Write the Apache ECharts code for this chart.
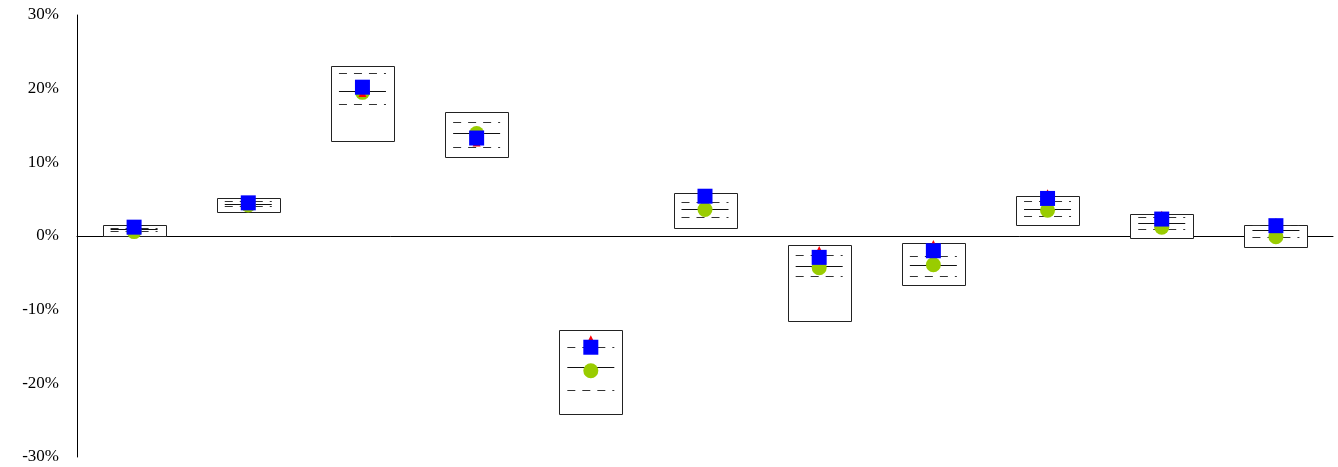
<!DOCTYPE html>
<html>
<head>
<meta charset="utf-8">
<script src="https://cdn.jsdelivr.net/npm/echarts@6/dist/echarts.min.js"></script>
<style>
  html, body { margin: 0; padding: 0; background: #fff; }
  #chart { width: 1338px; height: 467px; }
</style>
</head>
<body>
<div id="chart"></div>
<script>
// values in percent
var categories = ['1', '2', '3', '4', '5', '6', '7', '8', '9', '10', '11'];
var boxHigh   = [1.5, 5.2, 23.1, 16.8, -12.8, 5.8, -1.2, -0.9, 5.4, 3.0, 1.5];
var boxLow    = [0.0, 3.3, 12.9, 10.7, -24.2, 1.1, -11.5, -6.6, 1.5, -0.2, -1.45];
var upperLine = [1.15, 4.7, 22.1, 15.5, -15.1, 4.6, -2.6, -2.7, 4.7, 2.6, 1.45];
var medianLine = [0.95, 4.4, 19.7, 14.0, -17.8, 3.7, -4.1, -3.9, 3.6, 1.7, 0.77];
var lowerLine = [0.72, 4.1, 17.9, 12.1, -20.9, 2.6, -5.4, -5.4, 2.7, 0.95, -0.2];
var circleVals = [0.6, 4.2, 19.5, 13.9, -18.3, 3.6, -4.3, -3.9, 3.5, 1.2, -0.1];
var squareVals = [1.2, 4.5, 20.2, 13.3, -15.1, 5.4, -2.9, -2.0, 5.1, 2.3, 1.4];
var triangleVals = [1.6, 4.9, 19.4, 12.7, -14.0, 5.8, -1.9, -1.1, 5.8, 2.9, 1.9];
var yTicks = [-30, -20, -10, 0, 10, 20, 30];

var chart = echarts.init(document.getElementById('chart'));

var boxData = categories.map(function (c, i) {
  return [i, boxHigh[i], boxLow[i], upperLine[i], medianLine[i], lowerLine[i]];
});

function renderBox(params, api) {
  var i = api.value(0);
  var top = api.coord([i, api.value(1)]);
  var bottom = api.coord([i, api.value(2)]);
  var yUp = api.coord([i, api.value(3)])[1];
  var yMed = api.coord([i, api.value(4)])[1];
  var yLow = api.coord([i, api.value(5)])[1];
  var cx = top[0];
  var halfBox = 31.5;
  var halfLine = 23.5;
  var dashStyle = { stroke: '#333', lineWidth: 1, lineDash: [8, 7] };
  return {
    type: 'group',
    children: [
      {
        type: 'rect',
        shape: { x: Math.round(cx - halfBox) + 0.5, y: Math.round(top[1]) + 0.5,
                 width: halfBox * 2, height: Math.round(bottom[1] - top[1]) },
        style: { fill: '#fff', stroke: '#222', lineWidth: 1 }
      },
      {
        type: 'line',
        shape: { x1: cx - halfLine, y1: Math.round(yUp) + 0.5, x2: cx + halfLine, y2: Math.round(yUp) + 0.5 },
        style: dashStyle
      },
      {
        type: 'line',
        shape: { x1: cx - halfLine, y1: Math.round(yMed) + 0.5, x2: cx + halfLine, y2: Math.round(yMed) + 0.5 },
        style: { stroke: '#111', lineWidth: 1 }
      },
      {
        type: 'line',
        shape: { x1: cx - halfLine, y1: Math.round(yLow) + 0.5, x2: cx + halfLine, y2: Math.round(yLow) + 0.5 },
        style: dashStyle
      }
    ]
  };
}

chart.setOption({
  animation: false,
  backgroundColor: '#fff',
  grid: { left: 77, right: 5, top: 15, bottom: 10 },
  xAxis: {
    type: 'category',
    data: categories,
    axisLine: { onZero: true, lineStyle: { color: '#000', width: 1 } },
    axisTick: { show: false },
    axisLabel: { show: false },
    splitLine: { show: false }
  },
  yAxis: {
    type: 'value',
    min: yTicks[0],
    max: yTicks[yTicks.length - 1],
    interval: 10,
    axisLine: { show: true, lineStyle: { color: '#000', width: 1 } },
    axisTick: { show: false },
    splitLine: { show: false },
    axisLabel: {
      color: '#000',
      fontFamily: 'Liberation Serif',
      fontSize: 17,
      margin: 18,
      formatter: function (v) { return v + '%'; }
    }
  },
  series: [
    {
      type: 'custom',
      renderItem: renderBox,
      data: boxData,
      encode: { x: 0, y: [1, 2] },
      z: 2
    },
    {
      type: 'scatter',
      data: circleVals,
      symbol: 'circle',
      symbolSize: 15,
      itemStyle: { color: '#99cc00', opacity: 1 },
      z: 3
    },
    {
      type: 'scatter',
      data: triangleVals,
      symbol: 'triangle',
      symbolSize: 8,
      itemStyle: { color: '#ff0000', opacity: 1 },
      z: 4
    },
    {
      type: 'scatter',
      data: squareVals,
      symbol: 'rect',
      symbolSize: 15,
      itemStyle: { color: '#0000ff', opacity: 1 },
      z: 5
    }
  ]
});
</script>
</body>
</html>
